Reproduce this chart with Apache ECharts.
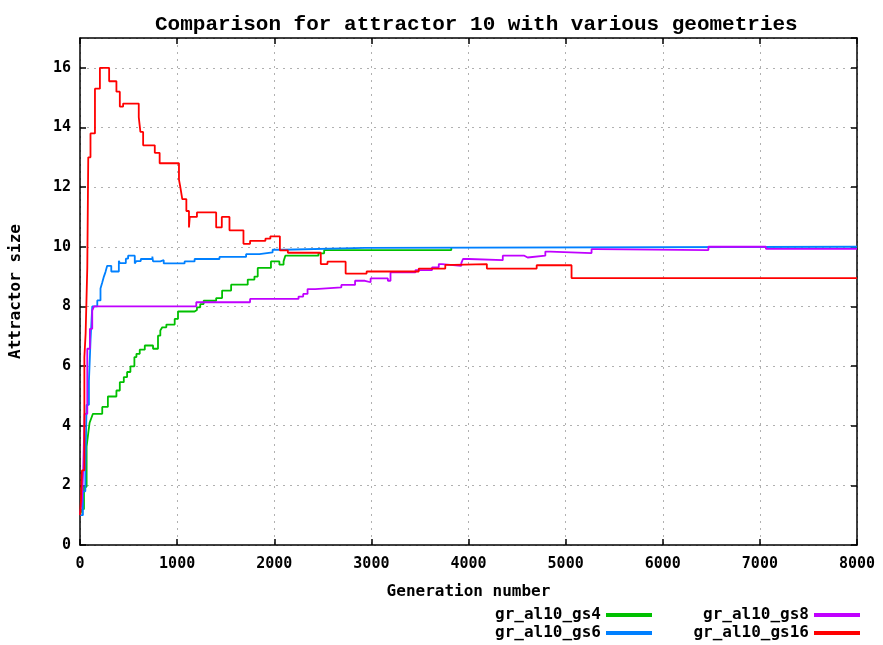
<!DOCTYPE html>
<html>
<head>
<meta charset="utf-8">
<script src="https://cdn.jsdelivr.net/npm/echarts@6/dist/echarts.min.js"></script>
<style>html,body{margin:0;padding:0;background:#fff}#c{width:883px;height:645px}</style>
</head>
<body>
<div id="c"></div>
<script>
const titleText = 'Comparison for attractor 10 with various geometries';
const xName = 'Generation number';
const yName = 'Attractor size';
const seriesNames = ['gr_al10_gs4', 'gr_al10_gs6', 'gr_al10_gs8', 'gr_al10_gs16'];

const gs4Gen = [0, 20, 41, 68, 85, 99, 116, 133, 229, 287, 375, 410, 451, 485, 519, 560, 581, 615, 667, 752, 803, 827, 847, 889, 975, 1009, 1180, 1204, 1238, 1273, 1402, 1463, 1556, 1727, 1796, 1830, 1966, 2053, 2096, 2114, 2455, 2514, 3823];
const gs4Val = [1.0, 1.2, 1.95, 3.3, 3.75, 4.1, 4.25, 4.4, 4.63, 4.98, 5.18, 5.46, 5.63, 5.8, 5.99, 6.3, 6.41, 6.55, 6.69, 6.58, 7.02, 7.19, 7.3, 7.39, 7.58, 7.83, 7.88, 7.97, 8.08, 8.19, 8.28, 8.53, 8.73, 8.9, 9.0, 9.29, 9.51, 9.4, 9.51, 9.7, 9.78, 9.89, 9.98];

const gs6Gen = [0, 30, 55, 68, 92, 109, 126, 178, 211, 229, 246, 262, 280, 322, 400, 410, 472, 495, 564, 581, 626, 745, 752, 827, 862, 1077, 1180, 1436, 1710, 1847, 1983, 2100, 2934, 8000];
const gs6Val = [1.0, 1.8, 2.5, 4.7, 5.5, 6.9, 8.0, 8.2, 8.6, 8.8, 9.0, 9.15, 9.36, 9.17, 9.53, 9.45, 9.6, 9.7, 9.44, 9.52, 9.59, 9.67, 9.51, 9.55, 9.44, 9.51, 9.59, 9.66, 9.75, 9.81, 9.9, 9.96, 10.0, 10.0];

const gs8Gen = [0, 20, 33, 47, 75, 102, 126, 144, 1197, 1751, 2250, 2298, 2343, 2421, 2691, 2832, 2934, 2992, 3170, 3197, 3454, 3625, 3694, 3728, 3926, 3943, 4002, 4353, 4575, 4609, 4791, 4842, 5267, 5311, 6470, 7062, 8000];
const gs8Val = [1.0, 1.5, 2.5, 4.4, 6.58, 7.25, 7.86, 8.0, 8.14, 8.25, 8.33, 8.42, 8.58, 8.64, 8.72, 8.86, 8.81, 8.94, 8.86, 9.14, 9.22, 9.31, 9.42, 9.36, 9.45, 9.59, 9.55, 9.7, 9.64, 9.7, 9.84, 9.79, 9.92, 9.89, 10.0, 9.93, 9.93];

const gs16Gen = [0, 10, 20, 45, 58, 75, 85, 108, 154, 205, 300, 375, 410, 444, 605, 622, 650, 770, 820, 1019, 1033, 1053, 1095, 1122, 1130, 1204, 1402, 1460, 1539, 1683, 1751, 1909, 1960, 2058, 2140, 2479, 2548, 2735, 2951, 3488, 3761, 3848, 4189, 4702, 5061, 8000];
const gs16Val = [1.0, 1.5, 2.5, 6.3, 7.1, 9.3, 13.0, 13.8, 15.3, 16.0, 15.55, 15.2, 14.7, 14.8, 14.35, 13.85, 13.4, 13.15, 12.8, 12.25, 12.0, 11.6, 11.2, 10.65, 11.0, 11.15, 10.65, 11.0, 10.55, 10.1, 10.2, 10.27, 10.35, 9.88, 9.8, 9.42, 9.5, 9.1, 9.17, 9.27, 9.39, 9.42, 9.27, 9.38, 8.95, 8.95];

const colors = ['#00c000', '#0080ff', '#c000ff', '#ff0000'];

function zip(a, b) { return a.map((v, i) => [v, b[i]]); }
const allData = [zip(gs4Gen, gs4Val), zip(gs6Gen, gs6Val), zip(gs8Gen, gs8Val), zip(gs16Gen, gs16Val)];

const mono = 'DejaVu Sans Mono';
const frame = { show: true, onZero: false, lineStyle: { color: '#000', width: 1.5 } };
const tick = { show: true, inside: true, length: 6, lineStyle: { color: '#000', width: 1.5 } };
const split = { show: true, lineStyle: { color: '#b0b0b0', type: [2, 5], width: 1 } };

const chart = echarts.init(document.getElementById('c'), null, { renderer: 'canvas' });

const legendPos = [
  { right: 231, top: 607 },
  { right: 231, top: 625 },
  { right: 23, top: 607 },
  { right: 23, top: 625 }
];

chart.setOption({
  animation: false,
  backgroundColor: '#fff',
  title: {
    text: titleText,
    left: 150, top: 9,
    textStyle: { fontFamily: 'Liberation Mono', fontWeight: 'bold', fontSize: 21, color: '#000' }
  },
  legend: seriesNames.map((n, i) => ({
    data: [n],
    right: legendPos[i].right, top: legendPos[i].top,
    padding: 0,
    align: 'right',
    icon: 'rect',
    itemWidth: 46, itemHeight: 4,
    textStyle: { fontFamily: mono, fontWeight: 'bold', fontSize: 16, color: '#000' },
    selectedMode: false
  })),
  grid: { left: 77, right: 26, top: 38, bottom: 100, containLabel: false },
  xAxis: [
    {
      type: 'value', min: 0, max: 8000, interval: 1000,
      name: xName, nameLocation: 'middle', nameGap: 39,
      nameTextStyle: { fontFamily: mono, fontWeight: 'bold', fontSize: 16, color: '#000' },
      axisLine: frame, axisTick: tick, splitLine: split,
      axisLabel: { fontFamily: mono, fontWeight: 'bold', fontSize: 15, color: '#000', margin: 12,
        formatter: v => String(v) }
    },
    {
      type: 'value', position: 'top', min: 0, max: 8000, interval: 1000,
      axisLine: frame, axisTick: tick, splitLine: { show: false }, axisLabel: { show: false }
    }
  ],
  yAxis: [
    {
      type: 'value', min: 0, max: 17, interval: 2,
      name: yName, nameLocation: 'middle', nameGap: 56,
      nameTextStyle: { fontFamily: mono, fontWeight: 'bold', fontSize: 16, color: '#000' },
      axisLine: frame, axisTick: tick, splitLine: split,
      axisLabel: { fontFamily: mono, fontWeight: 'bold', fontSize: 15, color: '#000', margin: 9, showMaxLabel: false,
        formatter: v => (v % 2 === 0 ? String(v) : '') }
    },
    {
      type: 'value', position: 'right', min: 0, max: 17, interval: 2,
      axisLine: frame, axisTick: tick, splitLine: { show: false }, axisLabel: { show: false }
    }
  ],
  series: seriesNames.map((n, i) => ({
    name: n, type: 'line', step: 'end', data: allData[i],
    showSymbol: false, symbol: 'none',
    color: colors[i],
    lineStyle: { color: colors[i], width: 1.8 },
    z: 2 + i
  }))
});
</script>
</body>
</html>
